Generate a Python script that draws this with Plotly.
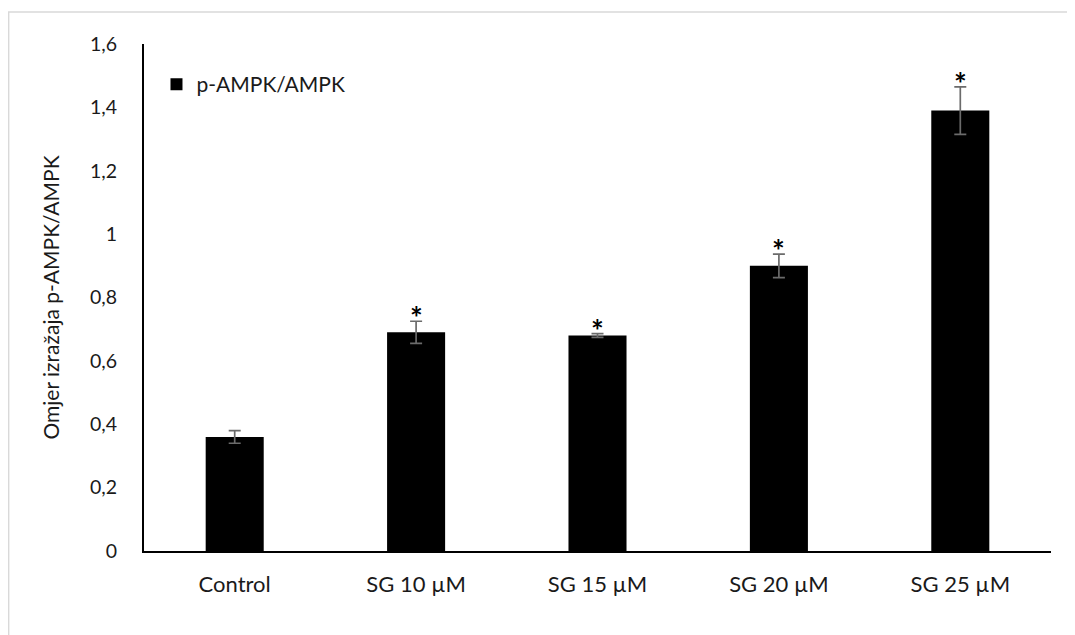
import plotly.graph_objects as go

categories = ["Control", "SG 10 µM", "SG 15 µM", "SG 20 µM", "SG 25 µM"]
values = [0.36, 0.69, 0.68, 0.90, 1.39]
errors = [0.02, 0.035, 0.006, 0.037, 0.075]
significant = [False, True, True, True, True]
series_name = "p-AMPK/AMPK"
y_title = "Omjer izražaja p-AMPK/AMPK"
y_ticks = [0, 0.2, 0.4, 0.6, 0.8, 1.0, 1.2, 1.4, 1.6]
y_ticklabels = ["0", "0,2", "0,4", "0,6", "0,8", "1", "1,2", "1,4", "1,6"]

FONT = "Lato"
# page body has an 8px margin; figure coordinates below are relative to the figure
W, H = 1067, 627
L, R, T, B = 135.5, 23.5, 36, 84
pw, ph = W - L - R, H - T - B

fig = go.Figure()
fig.add_trace(go.Bar(
    x=categories, y=values, name=series_name,
    marker=dict(color="black", line=dict(width=0)),
    error_y=dict(type="data", array=errors, visible=True,
                 color="#6b6b6b", thickness=1.7, width=6),
    showlegend=True,
))

for c, v, e, s in zip(categories, values, errors, significant):
    if s:
        fig.add_annotation(x=c, y=v + e, text="<b>*</b>", showarrow=False,
                           yanchor="bottom", yshift=-16,
                           font=dict(family=FONT, size=30, color="black"))

def px(x):
    return (x - L) / pw

def py(y):
    return 1 - (y - T) / ph

fig.add_shape(type="rect", xref="paper", yref="paper",
              x0=px(0), x1=px(1100), y0=py(700), y1=py(4),
              line=dict(color="#d9d9d9", width=1.5), fillcolor="rgba(0,0,0,0)",
              layer="below")

fig.update_layout(
    width=W, height=H,
    margin=dict(l=L, r=R, t=T, b=B, autoexpand=False),
    paper_bgcolor="white", plot_bgcolor="white",
    bargap=0.68,
    font=dict(family=FONT, size=21, color="#1a1a1a"),
    legend=dict(x=px(148), y=py(56), xanchor="left", yanchor="top",
                bgcolor="rgba(0,0,0,0)", font=dict(size=21),
                itemwidth=30),
    xaxis=dict(showline=True, linecolor="black", linewidth=2,
               ticks="", showgrid=False, ticklabelstandoff=13,
               tickfont=dict(size=22)),
    yaxis=dict(range=[0, 1.6], showline=True, linecolor="black", linewidth=2,
               ticks="", showgrid=False, zeroline=False,
               tickvals=y_ticks, ticktext=y_ticklabels,
               ticklabelstandoff=21, tickfont=dict(size=19.5),
               title=dict(text=y_title, standoff=25, font=dict(size=21))),
)

fig.write_html("out.html")
